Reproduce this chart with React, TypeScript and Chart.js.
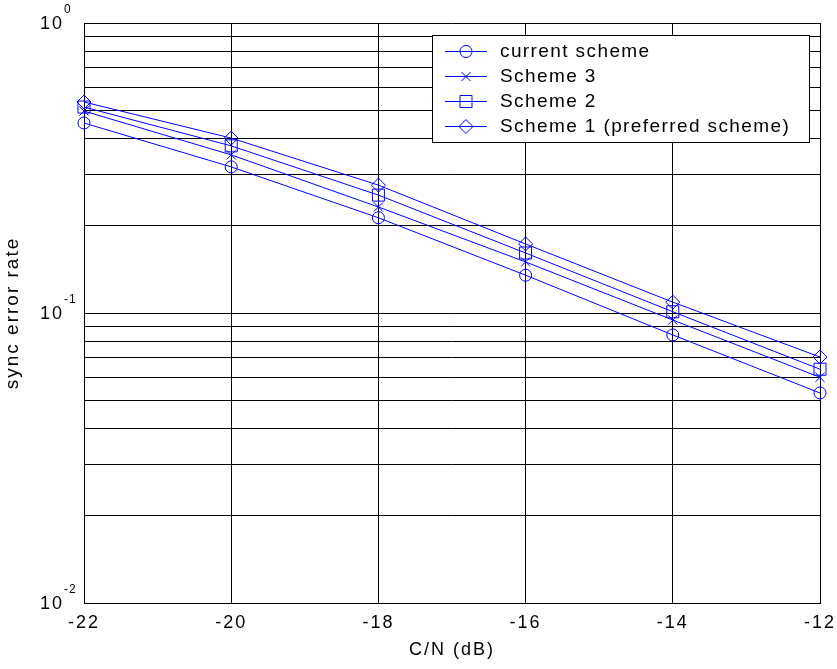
import React, { useEffect, useRef } from 'react';
import { Chart, registerables } from 'chart.js';
import { drawPoint } from 'chart.js/helpers';

Chart.register(...registerables);

// ---- data ----
const cnValues = [-22, -20, -18, -16, -14, -12];
const currentScheme = [0.452, 0.319, 0.213, 0.135, 0.084, 0.053];
const scheme3 = [0.497, 0.351, 0.232, 0.15, 0.0946, 0.06];
const scheme2 = [0.513, 0.377, 0.255, 0.161, 0.101, 0.064];
const scheme1 = [0.534, 0.401, 0.276, 0.173, 0.109, 0.0705];
const seriesLabels = ['current scheme', 'Scheme 3', 'Scheme 2', 'Scheme 1 (preferred scheme)'];
const xTickValues = [-22, -20, -18, -16, -14, -12];
const yTickValues = [
  0.01, 0.02, 0.03, 0.04, 0.05, 0.06, 0.07, 0.08, 0.09,
  0.1, 0.2, 0.3, 0.4, 0.5, 0.6, 0.7, 0.8, 0.9, 1,
];
const xTitle = 'C/N (dB)';
const yTitle = 'sync error rate';

const FONT = '"Liberation Sans", Arial, Helvetica, sans-serif';
const BLUE = '#0000ff';

const markerStyles = ['circle', 'crossRot', 'rect', 'rectRot'];
const markerRadii = [6, 6.5, 8.5, 7];

const yPowerLabels = {
  id: 'yPowerLabels',
  afterDraw(chart: any) {
    const scale = chart.scales.y;
    const ctx = chart.ctx;
    const left = chart.chartArea.left;
    ctx.save();
    ctx.fillStyle = '#000';
    scale.ticks.forEach((t: any) => {
      const e = Math.log10(t.value);
      const r = Math.round(e);
      if (Math.abs(e - r) > 1e-6) return;
      const y = scale.getPixelForValue(t.value);
      try { ctx.letterSpacing = '2px'; } catch (e1) {}
      ctx.font = `18px ${FONT}`;
      ctx.textAlign = 'right';
      ctx.textBaseline = 'middle';
      ctx.fillText('10', left - 20, y + 1);
      ctx.font = `12px ${FONT}`;
      ctx.textAlign = 'left';
      try { ctx.letterSpacing = '1px'; } catch (e2) {}
      ctx.fillText(String(r), left - 20, y - 13);
    });
    ctx.restore();
  },
};

const boxLegend = {
  id: 'boxLegend',
  afterDraw(chart: any) {
    const { ctx, chartArea } = chart;
    const x0 = Math.round(chartArea.left + 348);
    const y0 = Math.round(chartArea.top + 12);
    const w = 377;
    const h = 107;
    ctx.save();
    ctx.fillStyle = '#fff';
    ctx.fillRect(x0, y0, w, h);
    ctx.strokeStyle = '#000';
    ctx.lineWidth = 1;
    ctx.strokeRect(x0 + 0.5, y0 + 0.5, w, h);
    chart.data.datasets.forEach((ds: any, i: number) => {
      const cy = y0 + 16 + i * 25;
      ctx.strokeStyle = ds.borderColor;
      ctx.lineWidth = 1;
      ctx.beginPath();
      ctx.moveTo(x0 + 13, cy + 0.5);
      ctx.lineTo(x0 + 55, cy + 0.5);
      ctx.stroke();
      ctx.fillStyle = 'rgba(0,0,0,0)';
      ctx.strokeStyle = ds.borderColor;
      drawPoint(ctx, { pointStyle: ds.pointStyle, radius: ds.pointRadius, rotation: 0, borderWidth: 1 } as any, x0 + 34, cy + 0.5);
      ctx.fillStyle = '#000';
      ctx.font = `19px ${FONT}`;
      try { ctx.letterSpacing = '1.4px'; } catch (e) {}
      ctx.textAlign = 'left';
      ctx.textBaseline = 'middle';
      ctx.fillText(ds.label, x0 + 68, cy + 1);
    });
    ctx.restore();
  },
};

const spacingPlugin = {
  id: 'spacing',
  beforeDraw(chart: any) {
    try { chart.ctx.letterSpacing = '2px'; } catch (e) {}
  },
};

export default function App() {
  const canvasRef = useRef<HTMLCanvasElement | null>(null);

  useEffect(() => {
    const canvas = canvasRef.current;
    if (!canvas) return;
    const series = [currentScheme, scheme3, scheme2, scheme1];
    const datasets = series.map((vals, i) => ({
      label: seriesLabels[i],
      data: cnValues.map((x, j) => ({ x, y: vals[j] })),
      borderColor: BLUE,
      borderWidth: 1,
      backgroundColor: 'rgba(0,0,0,0)',
      pointStyle: markerStyles[i],
      pointRadius: markerRadii[i],
      pointHoverRadius: markerRadii[i],
      pointBorderColor: BLUE,
      pointBackgroundColor: 'rgba(0,0,0,0)',
      pointBorderWidth: 1,
      tension: 0,
      fill: false,
      clip: false as any,
    }));

    const chart = new Chart(canvas, {
      type: 'line',
      data: { datasets },
      options: {
        animation: false,
        responsive: false,
        events: [],
        layout: { padding: { left: 0, right: 17, top: 23, bottom: 0 } },
        plugins: {
          legend: { display: false },
          tooltip: { enabled: false },
        },
        scales: {
          x: {
            type: 'linear',
            min: -22,
            max: -12,
            afterBuildTicks: (scale: any) => {
              scale.ticks = xTickValues.map((v) => ({ value: v }));
            },
            afterFit: (scale: any) => {
              scale.height = 66;
              scale.paddingLeft = 0;
              scale.paddingRight = 0;
            },
            grid: { color: '#000', lineWidth: 1, drawTicks: false },
            border: { display: true, color: '#000', width: 1 },
            ticks: {
              color: '#000',
              padding: 9,
              font: { family: FONT, size: 18 },
              maxRotation: 0,
              autoSkip: false,
              callback: (v: any) => String(v),
            },
            title: {
              display: true,
              text: xTitle,
              color: '#000',
              font: { family: FONT, size: 18 },
              padding: { top: 0, bottom: 8 },
            },
          },
          y: {
            type: 'logarithmic',
            min: 0.01,
            max: 1,
            afterBuildTicks: (scale: any) => {
              scale.ticks = yTickValues.map((v) => ({ value: v }));
            },
            afterFit: (scale: any) => {
              scale.width = 84;
              scale.paddingTop = 0;
              scale.paddingBottom = 0;
            },
            grid: { color: '#000', lineWidth: 1, drawTicks: false },
            border: { display: true, color: '#000', width: 1 },
            ticks: { display: false, autoSkip: false },
            title: {
              display: true,
              text: yTitle,
              color: '#000',
              font: { family: FONT, size: 19 },
              padding: { top: 1, bottom: 0 },
            },
          },
        },
      },
      plugins: [spacingPlugin, yPowerLabels, boxLegend],
    });

    return () => {
      chart.destroy();
    };
  }, []);

  return (
    <div style={{ position: 'absolute', left: 0, top: 0, width: 837, height: 669, background: '#fff' }}>
      <canvas ref={canvasRef} width={837} height={669} style={{ display: 'block' }} />
    </div>
  );
}
